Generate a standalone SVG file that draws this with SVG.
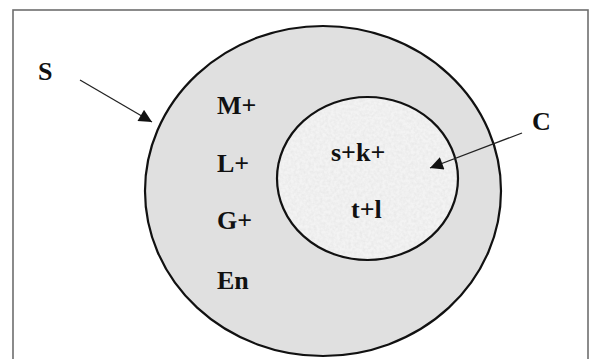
<svg xmlns="http://www.w3.org/2000/svg" width="590" height="359" viewBox="0 0 590 359">
  <style>
    .lbl { font-family: "Liberation Serif", "Times New Roman", serif; font-weight: bold; font-size: 26px; fill: #111; }
    .ring { stroke: #111; stroke-width: 2.2; }
    .conn { stroke: #222; stroke-width: 1.3; fill: none; }
  </style>
  <defs>
    <marker id="ah" viewBox="0 0 10 10" refX="10" refY="5" markerWidth="14" markerHeight="13" markerUnits="userSpaceOnUse" orient="auto">
      <path d="M0,0 L10,5 L0,10 Z" fill="#111"/>
    </marker>
    <filter id="speckle" x="0" y="0" width="100%" height="100%">
      <feTurbulence type="fractalNoise" baseFrequency="0.35" numOctaves="2" seed="3" result="n"/>
      <feColorMatrix in="n" type="matrix" values="0 0 0 0 0.80  0 0 0 0 0.80  0 0 0 0 0.80  0 0 0 -1.6 1.1" result="spots"/>
      <feFlood flood-color="#f3f3f3" result="base"/>
      <feComposite in="spots" in2="base" operator="over" result="tex"/>
      <feComposite in="tex" in2="SourceGraphic" operator="in"/>
    </filter>
  </defs>
  <rect x="0" y="0" width="590" height="359" fill="#ffffff"/>
  <rect id="frame" x="13" y="10" width="575" height="360" fill="#ffffff" stroke="#6e6e6e" stroke-width="1.6"/>

  <g id="S-set">
    <ellipse class="ring" cx="323" cy="191" rx="178" ry="165" fill="#e0e0e0"/>
  </g>
  <g id="C-set">
    <ellipse cx="367.5" cy="178.5" rx="90.5" ry="81.5" fill="#f0f0f0" filter="url(#speckle)"/>
    <ellipse class="ring" cx="367.5" cy="178.5" rx="90.5" ry="81.5" fill="none"/>
  </g>

  <g id="labels">
    <text class="lbl" x="38" y="80">S</text>
    <text class="lbl" x="532" y="130">C</text>
    <text class="lbl" x="217" y="114">M+</text>
    <text class="lbl" x="217" y="172">L+</text>
    <text class="lbl" x="217" y="229">G+</text>
    <text class="lbl" x="217" y="289">En</text>
    <text class="lbl" x="331" y="161">s+k+</text>
    <text class="lbl" x="351" y="218">t+l</text>
  </g>

  <g id="connectors">
    <line class="conn" x1="80" y1="80" x2="152" y2="122" marker-end="url(#ah)"/>
    <line class="conn" x1="522" y1="133" x2="430" y2="168" marker-end="url(#ah)"/>
  </g>
</svg>
